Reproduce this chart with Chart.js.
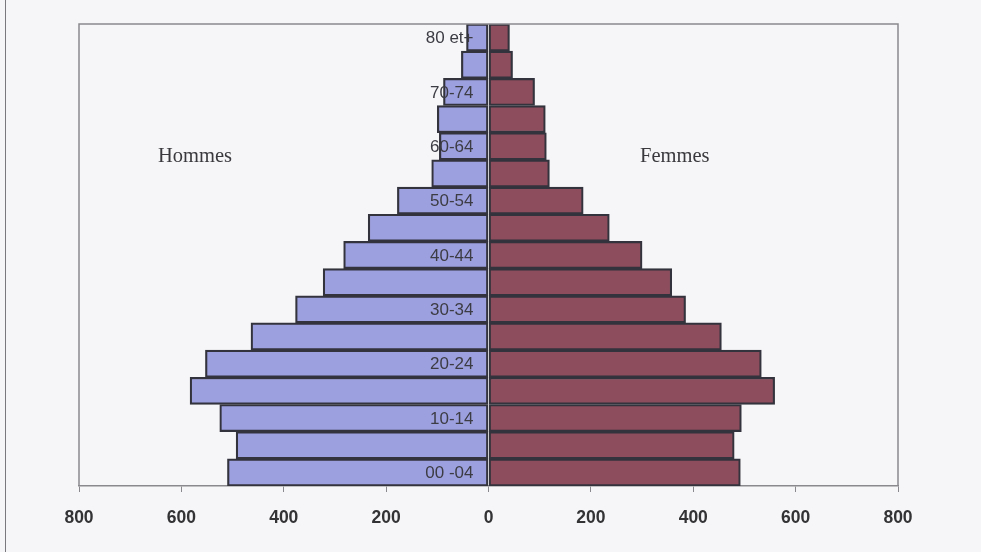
<!DOCTYPE html>
<html>
<head>
<meta charset="utf-8">
<script src="https://cdn.jsdelivr.net/npm/chart.js@4.4.1/dist/chart.umd.min.js"></script>
<style>
  html, body { margin: 0; padding: 0; background: #f6f6f8; }
  #wrap { position: relative; width: 981px; height: 552px; }
  #edge { position: absolute; left: 5px; top: 0; width: 1px; height: 552px; background: #7a7a7e; }
  canvas { position: absolute; left: 0; top: 0; }
</style>
</head>
<body>
<div id="wrap">
  <div id="edge"></div>
  <canvas id="pyramide" width="981" height="552"></canvas>
</div>
<script>
// Tranches d'âge, de la plus jeune (en bas) à la plus âgée (en haut)
const ageGroups = ['00 -04', '05-09', '10-14', '15-19', '20-24', '25-29', '30-34', '35-39',
                   '40-44', '45-49', '50-54', '55-59', '60-64', '65-69', '70-74', '75-79', '80 et+'];
// Effectifs par sexe
const hommes = [510, 493, 525, 583, 553, 464, 377, 323, 283, 235, 178, 111, 96, 100, 88, 53, 43];
const femmes = [492, 480, 494, 559, 533, 455, 385, 358, 300, 236, 185, 119, 113, 111, 90, 47, 41];
// Graduations de l'axe horizontal
const xTicks = [-800, -600, -400, -200, 0, 200, 400, 600, 800];

// Cadre de la zone de tracé, libellés des tranches (une sur deux) le long de l'axe 0,
// et libellés des deux côtés
const decor = {
  id: 'decor',
  afterDatasetsDraw(chart) {
    const { ctx, chartArea: a, scales } = chart;
    ctx.save();
    ctx.strokeStyle = '#8a8a8e';
    ctx.lineWidth = 1.5;
    ctx.beginPath();
    ctx.moveTo(a.left, a.bottom);
    ctx.lineTo(a.left, a.top);
    ctx.lineTo(a.right, a.top);
    ctx.lineTo(a.right, a.bottom);
    ctx.stroke();

    const x0 = scales.x.getPixelForValue(0);
    ctx.fillStyle = '#3c3c44';
    ctx.font = '17px "Liberation Sans", Arial, sans-serif';
    ctx.textAlign = 'right';
    ctx.textBaseline = 'middle';
    ageGroups.forEach((g, i) => {
      if (i % 2 === 0) ctx.fillText(g, x0 - 15, scales.y.getPixelForValue(i) + 1);
    });

    ctx.fillStyle = '#3a3a3e';
    ctx.font = '20.5px "Liberation Serif", "DejaVu Serif", serif';
    ctx.textAlign = 'left';
    ctx.fillText('Hommes', 158, 157);
    ctx.fillText('Femmes', 640, 157);
    ctx.restore();
  }
};

new Chart(document.getElementById('pyramide'), {
  type: 'bar',
  data: {
    labels: ageGroups,
    datasets: [
      {
        label: 'Hommes',
        data: hommes.map(v => -v),
        backgroundColor: '#9da0df',
        borderColor: '#33333d',
        borderWidth: 2.2,
        borderSkipped: false,
        barPercentage: 1,
        categoryPercentage: 1
      },
      {
        label: 'Femmes',
        data: femmes,
        backgroundColor: '#8e4d5d',
        borderColor: '#33333d',
        borderWidth: 2.2,
        borderSkipped: false,
        barPercentage: 1,
        categoryPercentage: 1
      }
    ]
  },
  options: {
    indexAxis: 'y',
    responsive: false,
    animation: false,
    layout: { padding: { left: 79, right: 83, top: 24, bottom: 0 } },
    plugins: { legend: { display: false }, tooltip: { enabled: false } },
    scales: {
      x: {
        type: 'linear',
        stacked: true,
        min: -800,
        max: 800,
        afterBuildTicks(scale) { scale.ticks = xTicks.map(v => ({ value: v })); },
        afterFit(scale) { scale.height = 66; },
        grid: { drawOnChartArea: false, drawTicks: true, tickLength: 6, color: '#8a8a8e', lineWidth: 1 },
        border: { display: true, color: '#8a8a8e', width: 1.5 },
        ticks: {
          callback: v => Math.abs(v),
          color: '#333336',
          padding: 16,
          maxRotation: 0,
          autoSkip: false,
          font: { family: '"Liberation Sans", Arial, sans-serif', size: 17.5, weight: 'bold' }
        }
      },
      y: {
        type: 'category',
        stacked: true,
        reverse: true,
        display: false
      }
    }
  },
  plugins: [decor]
});
</script>
</body>
</html>
